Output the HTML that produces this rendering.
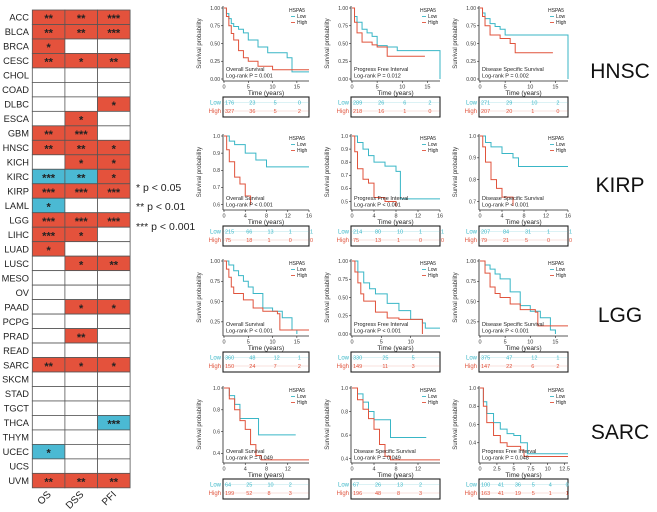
<!DOCTYPE html>
<html><head><meta charset="utf-8">
<style>
html,body{margin:0;padding:0;background:#fff;}
svg{display:block;font-family:"Liberation Sans",sans-serif;}
</style></head>
<body>
<svg id="fig" width="657" height="512" viewBox="0 0 657 512"></svg>
<script>
// ---------- heatmap data ----------
const cancers=["ACC","BLCA","BRCA","CESC","CHOL","COAD","DLBC","ESCA","GBM","HNSC","KICH","KIRC","KIRP","LAML","LGG","LIHC","LUAD","LUSC","MESO","OV","PAAD","PCPG","PRAD","READ","SARC","SKCM","STAD","TGCT","THCA","THYM","UCEC","UCS","UVM"];
const endpoints=["OS","DSS","PFI"];
const sigOS =[2,2,1,2,0,0,0,0,2,2,0,-3,3,-1,3,3,1,0,0,0,0,0,0,0,2,0,0,0,0,0,-1,0,2];
const sigDSS=[2,2,0,1,0,0,0,1,3,2,1,-2,3,0,3,1,0,1,0,0,1,0,2,0,1,0,0,0,0,0,0,0,2];
const sigPFI=[3,3,0,2,0,0,1,0,0,1,1,1,3,0,3,0,0,2,0,0,1,0,0,0,1,0,0,0,-3,0,0,0,2];

// ---------- KM data ----------
const panelRows=["HNSC","KIRP","LGG","SARC"];
const titles=[["Overall Survival","Progress Free Interval","Disease Specific Survival"],
 ["Overall Survival","Progress Free Interval","Disease Specific Survival"],
 ["Overall Survival","Progress Free Interval","Disease Specific Survival"],
 ["Overall Survival","Disease Specific Survival","Progress Free Interval"]];
const pvals=[["P = 0.001","P = 0.012","P = 0.002"],["P < 0.001","P < 0.001","P < 0.001"],["P < 0.001","P < 0.001","P < 0.001"],["P = 0.049","P = 0.049","P = 0.048"]];
const xMax=[[17.5,17.5,17.5],[16,16,16],[17.5,15,17.5],[16,16,13]];
const xTicks=[[[0,5,10,15],[0,5,10,15],[0,5,10,15]],[[0,4,8,12,16],[0,4,8,12,16],[0,4,8,12,16]],[[0,5,10,15],[0,5,10],[0,5,10,15]],[[0,4,8,12],[0,4,8,12],[0,2.5,5,7.5,10,12.5]]];
const yMin=[[0,0,0],[0.58,0.45,0.67],[0.1,0,0.1],[0.33,0.38,0.2]];
const yTicks=[[[0,0.25,0.5,0.75,1],[0,0.25,0.5,0.75,1],[0,0.25,0.5,0.75,1]],
 [[0.6,0.7,0.8,0.9,1.0],[0.5,0.6,0.7,0.8,0.9,1.0],[0.7,0.8,0.9,1.0]],
 [[0.25,0.5,0.75,1],[0,0.25,0.5,0.75,1],[0.25,0.5,0.75,1]],
 [[0.4,0.6,0.8,1.0],[0.4,0.6,0.8,1.0],[0.4,0.6,0.8,1.0]]];
const lowCurves=[
 [[[0,1],[0.5,0.92],[1,0.85],[1.5,0.78],[2,0.74],[3,0.7],[4,0.65],[5,0.55],[7,0.45],[9,0.37],[13,0.3],[14,0.1],[17.5,0.1]],
  [[0,1],[0.5,0.88],[1,0.8],[2,0.7],[3,0.65],[4,0.6],[5,0.47],[7,0.45],[9,0.4],[17.5,0.4],[17.5,0]],
  [[0,1],[0.5,0.93],[1,0.85],[2,0.78],[3,0.74],[4,0.7],[5,0.62],[17.5,0.62],[17.5,0]]],
 [[[0,1],[1,0.97],[2,0.95],[4,0.9],[6,0.86],[8,0.82],[16,0.82]],
  [[0,1],[1,0.95],[2,0.9],[3,0.85],[4,0.8],[6,0.77],[8,0.73],[8.8,0.52],[16,0.52]],
  [[0,1],[1,0.97],[2,0.95],[4,0.92],[6,0.9],[7,0.86],[16,0.86]]],
 [[[0,1],[1,0.95],[2,0.88],[3,0.82],[4,0.75],[5,0.68],[6,0.6],[8,0.42],[10,0.38],[12,0.3],[14,0.15],[15,0.1]],
  [[0,1],[1,0.85],[2,0.7],[3,0.62],[4,0.55],[6,0.42],[8,0.32],[10,0.2],[12,0.15],[12.5,0.08],[15,0.08]],
  [[0,1],[1,0.95],[2,0.9],[3,0.84],[4,0.78],[6,0.62],[8,0.45],[10,0.38],[12,0.3],[14,0.15],[15,0.1]]],
 [[[0,1],[1,0.93],[2,0.85],[3,0.72],[6,0.72],[6.5,0.57],[13.5,0.57]],
  [[0,1],[1,0.95],[2,0.88],[3,0.8],[4,0.73],[6.5,0.73],[7,0.58],[13.5,0.58]],
  [[0,1],[0.5,0.85],[1,0.72],[2,0.62],[3,0.55],[4,0.5],[5,0.48],[6,0.4],[7,0.28],[13,0.28]]]];
const highCurves=[
 [[[0,1],[0.5,0.88],[1,0.75],[1.5,0.64],[2,0.55],[3,0.4],[4,0.3],[5,0.25],[7,0.18],[10,0.13],[17.5,0.13]],
  [[0,1],[0.5,0.8],[1,0.65],[2,0.52],[4,0.48],[5,0.45],[7,0.32],[14.5,0.32]],
  [[0,1],[0.5,0.88],[1,0.75],[2,0.62],[4,0.57],[6,0.5],[7,0.37],[14.5,0.37]]],
 [[[0,1],[0.5,0.92],[1,0.85],[2,0.76],[3,0.72],[4,0.65],[5,0.6]],
  [[0,1],[0.5,0.88],[1,0.75],[2,0.67],[3,0.64],[4,0.53],[6,0.5],[8,0.46]],
  [[0,1],[0.5,0.95],[1,0.88],[2,0.8],[3,0.76],[4,0.72],[6,0.68]]],
 [[[0,1],[0.5,0.9],[1,0.8],[1.5,0.68],[2,0.6],[4,0.52],[6,0.42],[8,0.38],[11,0.35],[11.5,0.15],[17.5,0.15]],
  [[0,1],[0.5,0.85],[1,0.7],[1.5,0.55],[2,0.45],[4,0.3],[6,0.22],[8,0.2],[12,0.2],[12,0]],
  [[0,1],[1,0.85],[2,0.68],[3,0.6],[4,0.55],[6,0.47],[8,0.4],[11,0.37],[11.5,0.2],[17.5,0.2]]],
 [[[0,1],[1,0.9],[2,0.8],[3,0.7],[4,0.62],[5,0.48],[6,0.38],[7,0.34],[16,0.34]],
  [[0,1],[1,0.9],[2,0.82],[3,0.74],[4,0.65],[5,0.52],[6,0.42],[7,0.39],[16,0.39]],
  [[0,1],[0.5,0.8],[1,0.62],[2,0.48],[3,0.4],[4,0.36],[6,0.32],[6.5,0.25],[13,0.25]]]];
const riskLow=[[[176,23,5,0],[289,26,6,2],[271,29,10,2]],[[215,66,13,1,1],[214,80,10,1,1],[207,84,31,1,1]],[[360,48,12,1],[330,25,5],[375,47,12,1]],[[64,25,10,2],[67,26,13,2],[100,41,36,5,4,0]]];
const riskHigh=[[[327,36,5,2],[218,16,1,0],[207,20,1,0]],[[75,18,1,0,0],[75,13,1,0,0],[79,21,5,0,0]],[[150,24,7,2],[149,11,3],[147,22,6,2]],[[199,52,8,3],[196,48,8,3],[163,41,19,5,1,1]]];

const NS="http://www.w3.org/2000/svg";
const svg=document.getElementById("fig");
function el(tag,attrs,parent,text){const e=document.createElementNS(NS,tag);for(const k in attrs)e.setAttribute(k,attrs[k]);if(text!==undefined)e.textContent=text;(parent||svg).appendChild(e);return e;}
const RED="#e4523c",BLUE="#4bb9d3",LOWC="#39b6c6",HIGHC="#e0533c";

// ---------- heatmap ----------
const hm=el("g",{});


const hx0=32.3,cw=32.6,hy0=10,rh=14.48;
const sigs=[sigOS,sigDSS,sigPFI];
cancers.forEach((c,i)=>{
  const lab=el("text",{x:29,y:hy0+i*rh+rh/2+3.5,"text-anchor":"end","font-size":9.3,fill:"#222"},hm,c);
  
  
  sigs.forEach((s,j)=>{
    const v=s[i];
    const r=el("rect",{x:hx0+j*cw,y:hy0+i*rh,width:cw,height:rh,fill:v>0?RED:(v<0?BLUE:"#fff"),stroke:"#555","stroke-width":0.8},hm);
    
    
    if(v!==0){
      const t=el("text",{x:hx0+j*cw+cw/2,y:hy0+i*rh+rh/2+5,"text-anchor":"middle","font-size":11,"font-weight":"bold",fill:"#222"},hm,"*".repeat(Math.abs(v)));
      
      
    }
  });
});
endpoints.forEach((e,j)=>{
  const cx=hx0+j*cw+cw/2+3, cy=495;
  const t=el("text",{x:cx,y:cy,"text-anchor":"end","font-size":10,fill:"#222",transform:`rotate(-45 ${cx} ${cy})`},hm,e);
  
  
});
[["* p < 0.05",191],["** p < 0.01",210],["*** p < 0.001",230]].forEach(([s,y])=>{
  const t=el("text",{x:136,y:y,"font-size":10.5,fill:"#222"},hm,s);
  
  
});

// ---------- KM panels ----------
const colX=[[223,309],[351,440],[479,568]];
const rowTop=[8,136,261,388], rowAxis=[81,210,336,463];
for(let r=0;r<4;r++){
  for(let c=0;c<3;c++){
    const g=el("g",{});
    
    
    const L=colX[c][0],R=colX[c][1],T=rowTop[r],B=rowAxis[r]-2;
    const xm=xMax[r][c],ym=yMin[r][c];
    const xs=t=>L+1+t/xm*(R-L-1);
    const ys=v=>B-(v-ym)/(1-ym)*(B-T);
    el("line",{x1:L,y1:T-2,x2:L,y2:rowAxis[r],stroke:"#222","stroke-width":0.8},g);
    el("line",{x1:L,y1:rowAxis[r],x2:R,y2:rowAxis[r],stroke:"#222","stroke-width":0.8},g);
    yTicks[r][c].forEach(v=>{
      const y=ys(v);
      el("line",{x1:L-2,y1:y,x2:L,y2:y,stroke:"#222","stroke-width":0.6},g);
      const t=el("text",{x:L-3,y:y+1.8,"text-anchor":"end","font-size":5,fill:"#333"},g,(ym===0||r!==1&&r!==3)?v.toFixed(2):v.toFixed(1));
      
      
    });
    xTicks[r][c].forEach(v=>{
      const x=xs(v);
      el("line",{x1:x,y1:rowAxis[r],x2:x,y2:rowAxis[r]+2,stroke:"#222","stroke-width":0.6},g);
      const t=el("text",{x:x,y:rowAxis[r]+7.5,"text-anchor":"middle","font-size":5.5,fill:"#333"},g,String(v));
      
      
    });
    const yl=L-22, ylc=(T+B)/2;
    const ylab=el("text",{x:yl,y:ylc,"text-anchor":"middle","font-size":6,fill:"#333",transform:`rotate(-90 ${yl} ${ylc})`},g,"Survival probability");
    
    
    const xl=el("text",{x:(L+R)/2,y:rowAxis[r]+14,"text-anchor":"middle","font-size":6.5,fill:"#222"},g,"Time (years)");
    
    
    [[lowCurves[r][c],LOWC,'low'],[highCurves[r][c],HIGHC,'high']].forEach(([pts,col,nm])=>{
      let d="M"+xs(pts[0][0])+","+ys(pts[0][1]);
      for(let k=1;k<pts.length;k++){d+=" H"+xs(pts[k][0])+" V"+ys(Math.max(pts[k][1],ym));}
      const p=el("path",{d:d,fill:"none",stroke:col,"stroke-width":1},g);
      
      
    });
    const a1=el("text",{x:L+3,y:B-8,"font-size":5.5,fill:"#222"},g,titles[r][c]);
    
    
    const a2=el("text",{x:L+3,y:B-1.5,"font-size":5.5,fill:"#222"},g,"Log-rank  "+pvals[r][c]);
    
    
    const lx=R-20,ly=T+4;
    const lg=el("g",{},g);
    
    
    el("text",{x:lx,y:ly,"font-size":5,fill:"#222"},lg,"HSPA5");
    el("line",{x1:lx+2,y1:ly+4.5,x2:lx+6,y2:ly+4.5,stroke:LOWC,"stroke-width":0.9},lg);
    el("text",{x:lx+8,y:ly+6,"font-size":5,fill:"#222"},lg,"Low");
    el("line",{x1:lx+2,y1:ly+10.5,x2:lx+6,y2:ly+10.5,stroke:HIGHC,"stroke-width":0.9},lg);
    el("text",{x:lx+8,y:ly+12,"font-size":5,fill:"#222"},lg,"High");
    const tt=rowAxis[r]+16,th=20;
    const box=el("rect",{x:L,y:tt,width:R-L,height:th,fill:"#fff",stroke:"#222","stroke-width":1.1},g);
    
    
    [[riskLow[r][c],LOWC,"Low",tt+7.5],[riskHigh[r][c],HIGHC,"High",tt+16]].forEach(([vals,col,nm,y])=>{
      const t=el("text",{x:L-2,y:y,"text-anchor":"end","font-size":6,fill:col},g,nm);
      
      
      el("line",{x1:L,y1:y-2,x2:R,y2:y-2,stroke:col,"stroke-width":0.3,opacity:0.6},g);
      vals.forEach((v,k)=>{
        const x=xs(xTicks[r][c][k]!==undefined?xTicks[r][c][k]:k*5);
        el("text",{x:x+1,y:y,"font-size":5.5,fill:col},g,String(v));
      });
    });
  }
  const lab=el("text",{x:620,y:[78,192,322,439][r],"text-anchor":"middle","font-size":21,fill:"#111"},svg,panelRows[r]);
  
  
}
</script>
</body></html>
